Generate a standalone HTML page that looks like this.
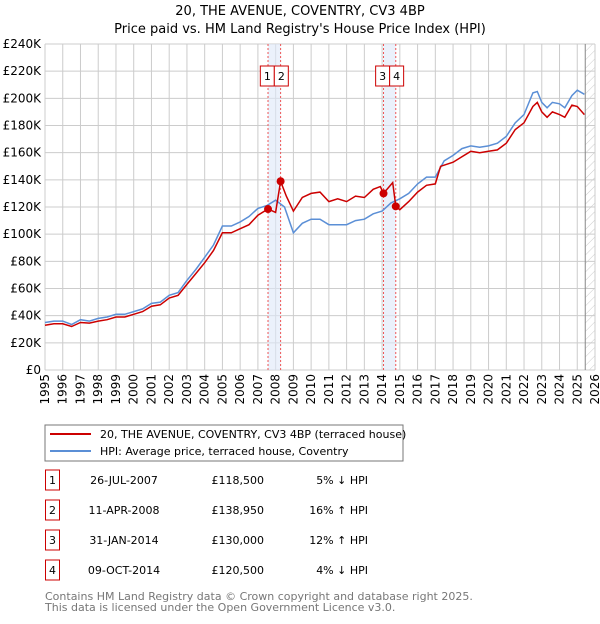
<!DOCTYPE html>
<html><head><meta charset="utf-8"><style>
body{margin:0;background:#fff;font-family:"DejaVu Sans","Liberation Sans",sans-serif;}
svg text{font-family:"DejaVu Sans","Liberation Sans",sans-serif;}
</style></head><body>
<svg id="c" width="600" height="620" xmlns="http://www.w3.org/2000/svg">
<defs><pattern id="hatch" width="6" height="6" patternUnits="userSpaceOnUse" patternTransform="rotate(45)"><line x1="0" y1="0" x2="0" y2="6" stroke="#ccc" stroke-width="1"/></pattern></defs>
<text x="300" y="15" text-anchor="middle" font-size="13">20, THE AVENUE, COVENTRY, CV3 4BP</text>
<text x="300" y="33" text-anchor="middle" font-size="13">Price paid vs. HM Land Registry's House Price Index (HPI)</text>
<g id="grid"></g><g id="marks"></g>
<rect x="45" y="425" width="358" height="36" fill="#fff" stroke="#777"/>
<line x1="50" y1="434" x2="91" y2="434" stroke="#cc0000" stroke-width="2"/>
<text x="100" y="438" font-size="11">20, THE AVENUE, COVENTRY, CV3 4BP (terraced house)</text>
<line x1="50" y1="451" x2="91" y2="451" stroke="#5b8fd6" stroke-width="2"/>
<text x="100" y="455" font-size="11">HPI: Average price, terraced house, Coventry</text>
<g id="table" font-size="11"></g>
<text x="45" y="600" font-size="11" fill="#777">Contains HM Land Registry data © Crown copyright and database right 2025.</text>
<text x="45" y="611" font-size="11" fill="#777">This data is licensed under the Open Government Licence v3.0.</text>
</svg>
<script>
const hpiDates=[1995,1995.5,1996,1996.5,1997,1997.5,1998,1998.5,1999,1999.5,2000,2000.5,2001,2001.5,2002,2002.5,2003,2003.5,2004,2004.5,2005,2005.5,2006,2006.5,2007,2007.5,2008,2008.5,2009,2009.5,2010,2010.5,2011,2011.5,2012,2012.5,2013,2013.5,2014,2014.5,2015,2015.5,2016,2016.5,2017,2017.5,2018,2018.5,2019,2019.5,2020,2020.5,2021,2021.5,2022,2022.5,2022.75,2023,2023.3,2023.6,2024,2024.3,2024.7,2025,2025.4];
const hpiValues=[35,36,36,33.5,37,36,38,39,41,41,43,45,49,50,55,57,66,74,83,92,106,106,109,113,119,121,125,120,101,108,111,111,107,107,107,110,111,115,117,123,126,130,137,142,142,154,158,163,165,164,165,167,172,182,188,204,205,197,193,197,196,193,202,206,203];
const propDates=[1995,1995.5,1996,1996.5,1997,1997.5,1998,1998.5,1999,1999.5,2000,2000.5,2001,2001.5,2002,2002.5,2003,2003.5,2004,2004.5,2005,2005.5,2006,2006.5,2007,2007.57,2008.0,2008.28,2008.6,2009,2009.5,2010,2010.5,2011,2011.5,2012,2012.5,2013,2013.5,2013.9,2014.08,2014.6,2014.77,2015,2015.5,2016,2016.5,2017,2017.3,2018,2018.5,2019,2019.5,2020,2020.5,2021,2021.5,2022,2022.5,2022.75,2023,2023.3,2023.6,2024,2024.3,2024.7,2025,2025.4];
const propValues=[33,34,34,32,35,34.5,36,37,39,39,41,43,47,48,53,55,63,71,79,88,101,101,104,107,114,118.5,116,138.95,128,117,127,130,131,124,126,124,128,127,133,135,130,138,120.5,118,124,131,136,137,150,153,157,161,160,161,162,167,177,182,194,197,190,186,190,188,186,195,194,188];
const saleDates=[2007.57,2008.28,2014.08,2014.77];
const salePrices=[118.5,138.95,130,120.5];
const saleLabels=["1","2","3","4"];
const saleDateText=["26-JUL-2007","11-APR-2008","31-JAN-2014","09-OCT-2014"];
const salePriceText=["£118,500","£138,950","£130,000","£120,500"];
const saleHpiText=["5% ↓ HPI","16% ↑ HPI","12% ↑ HPI","4% ↓ HPI"];
const yTicks=[0,20,40,60,80,100,120,140,160,180,200,220,240];
const xYears=[1995,1996,1997,1998,1999,2000,2001,2002,2003,2004,2005,2006,2007,2008,2009,2010,2011,2012,2013,2014,2015,2016,2017,2018,2019,2020,2021,2022,2023,2024,2025,2026];
const X0=45,X1=595,Y0=370,Y1=44;
const xs=d=>X0+(d-1995)/(2026-1995)*(X1-X0);
const ys=v=>Y0-v/240*(Y0-Y1);
const NS="http://www.w3.org/2000/svg";
function mk(p,t,a){const e=document.createElementNS(NS,t);for(const k in a)e.setAttribute(k,a[k]);p.appendChild(e);return e;}
const g=document.getElementById('grid'),m=document.getElementById('marks'),tb=document.getElementById('table');
yTicks.forEach(v=>{const l=mk(g,'line',{x1:X0,x2:X1,y1:ys(v),y2:ys(v),stroke:'#ccc'});


const t=mk(g,'text',{x:X0-4,y:ys(v)+4,'text-anchor':'end','font-size':12});t.textContent=v==0?'£0':'£'+v+'K';

});
xYears.forEach(y=>{const l=mk(g,'line',{x1:xs(y),x2:xs(y),y1:Y1,y2:Y0,stroke:'#ccc'});


const tx=xs(y)+4,ty=Y0+4;
const t=mk(g,'text',{x:tx,y:ty,'text-anchor':'end','font-size':12,transform:'rotate(-90 '+tx+' '+ty+')'});t.textContent=y;

});
const hx=xs(2025.45);
const h=mk(g,'rect',{x:hx,y:Y1,width:X1-hx,height:Y0-Y1,fill:'url(#hatch)'});


const hl=mk(g,'line',{x1:hx,x2:hx,y1:Y1,y2:Y0,stroke:'#888'});


[[0,1],[2,3]].forEach(([a,b])=>{const r=mk(m,'rect',{x:xs(saleDates[a]),y:Y1,width:xs(saleDates[b])-xs(saleDates[a]),height:Y0-Y1,fill:'#dde8f8',opacity:0.6});

});
saleDates.forEach((d,i)=>{const l=mk(m,'line',{x1:xs(d),x2:xs(d),y1:Y1,y2:Y0,stroke:'#e55','stroke-dasharray':'2,2'});


const pair=i%2==0?i:i-1;
const mid=(xs(saleDates[pair])+xs(saleDates[pair+1]))/2;
const bx=(i%2==0)?mid-14:mid;
const r=mk(m,'rect',{x:bx,y:66,width:14,height:20,fill:'#fff',stroke:'#cc0000'});


const t=mk(m,'text',{x:bx+7,y:80,'text-anchor':'middle','font-size':11});t.textContent=saleLabels[i];

});
const pts=(D,V)=>D.map((d,i)=>xs(d).toFixed(1)+','+ys(V[i]).toFixed(1)).join(' ');
const hp=mk(m,'polyline',{points:pts(hpiDates,hpiValues),fill:'none',stroke:'#5b8fd6','stroke-width':1.5});


const pp=mk(m,'polyline',{points:pts(propDates,propValues),fill:'none',stroke:'#cc0000','stroke-width':1.5});


saleDates.forEach((d,i)=>{const c=mk(m,'circle',{cx:xs(d),cy:ys(salePrices[i]),r:4,fill:'#cc0000'});

});
saleDates.forEach((d,i)=>{const y=483+i*30;
const r=mk(tb,'rect',{x:45.5,y:y-13,width:14,height:20,fill:'#fff',stroke:'#cc0000'});


const a=mk(tb,'text',{x:52.5,y:y+1,'text-anchor':'middle'});a.textContent=saleLabels[i];


const b=mk(tb,'text',{x:124,y:y+1,'text-anchor':'middle'});b.textContent=saleDateText[i];


const c=mk(tb,'text',{x:264,y:y+1,'text-anchor':'end'});c.textContent=salePriceText[i];


const e=mk(tb,'text',{x:368,y:y+1,'text-anchor':'end'});e.textContent=saleHpiText[i];

});
</script>
</body></html>
